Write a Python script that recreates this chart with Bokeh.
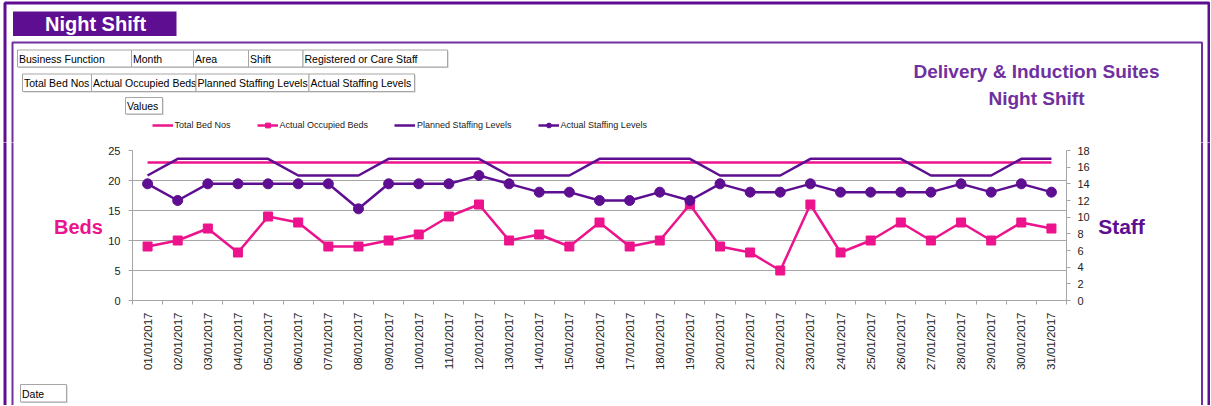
from bokeh.plotting import figure
from bokeh.layouts import column, row
from bokeh.models import Range1d, LinearAxis, FixedTicker, Legend, LegendItem
from bokeh.core.properties import value
from bokeh.embed import file_html
from bokeh.resources import INLINE

# ---------------- data ----------------
dates = ["01/01/2017", "02/01/2017", "03/01/2017", "04/01/2017", "05/01/2017",
         "06/01/2017", "07/01/2017", "08/01/2017", "09/01/2017", "10/01/2017",
         "11/01/2017", "12/01/2017", "13/01/2017", "14/01/2017", "15/01/2017",
         "16/01/2017", "17/01/2017", "18/01/2017", "19/01/2017", "20/01/2017",
         "21/01/2017", "22/01/2017", "23/01/2017", "24/01/2017", "25/01/2017",
         "26/01/2017", "27/01/2017", "28/01/2017", "29/01/2017", "30/01/2017",
         "31/01/2017"]
total_bed_nos = [23] * 31
actual_occupied_beds = [9, 10, 12, 8, 14, 13, 9, 9, 10, 11, 14, 16, 10, 11, 9, 13,
                        9, 10, 16, 9, 8, 5, 16, 8, 10, 13, 10, 13, 10, 13, 12]
planned_staffing = [15, 17, 17, 17, 17, 15, 15, 15, 17, 17, 17, 17, 15, 15, 15, 17,
                    17, 17, 17, 15, 15, 15, 17, 17, 17, 17, 15, 15, 15, 17, 17]
actual_staffing = [14, 12, 14, 14, 14, 14, 14, 11, 14, 14, 14, 15, 14, 13, 13, 12,
                   12, 13, 12, 14, 13, 13, 14, 13, 13, 13, 13, 14, 13, 14, 13]
series_names = ["Total Bed Nos", "Actual Occupied Beds",
                "Planned Staffing Levels", "Actual Staffing Levels"]
bed_ticks = [0, 5, 10, 15, 20, 25]
staff_ticks = [0, 2, 4, 6, 8, 10, 12, 14, 16, 18]
filter_fields = ["Business Function", "Month", "Area", "Shift", "Registered or Care Staff"]
value_fields = series_names
row_field = "Values"
axis_field = "Date"
title_lines = ["Delivery & Induction Suites", "Night Shift"]
sheet_title = "Night Shift"
left_title = "Beds"
right_title = "Staff"

n = len(dates)
xpos = list(range(1, n + 1))
NAN = float("nan")

# ---------------- style ----------------
PINK = "#EC138C"
PURPLE = "#5E0E91"
PURPLE_MID = "#7030A0"
GRID = "#A6A6A6"
TXT = "#222222"
FONT = "Liberation Sans"

# page geometry (page pixels; the page template has no body margin)
OX, OY = 0, 0
WT, HT = 1210, 405
TOP_Y = 142
CH_X0, CH_X1 = 104, 1093
FR_X0, FR_X1 = 132, 1066
FR_Y0, FR_Y1 = 150, 300


def deco_fig(x0, x1, y0, y1):
    f = figure(width=int(x1 - x0), height=int(y1 - y0), x_range=Range1d(x0, x1),
               y_range=Range1d(y1, y0), output_backend="svg", toolbar_location=None,
               x_axis_location=None, y_axis_location=None, min_border=0,
               frame_align=False)
    f.outline_line_color = None
    f.grid.visible = False
    return f


def frames(f):
    f.quad(left=[4.5], right=[1208.5], top=[2.5], bottom=[460], fill_color=None,
           line_color=PURPLE, line_width=3)
    f.quad(left=[12], right=[1201.5], top=[42], bottom=[460], fill_color=None,
           line_color=PURPLE_MID, line_width=2)


def txt(f, x, y, s, size, color="black", align="left", bold=False):
    f.text(x=[x], y=[y], text=[s], text_font=value(FONT), text_font_size=value(size),
           text_color=color, text_align=align, text_baseline="middle",
           text_font_style="bold" if bold else "normal")


def button(f, x0, x1, y0, y1, s):
    f.quad(left=[x0 + 1], right=[x1 + 1], top=[y0 + 1], bottom=[y1 + 1],
           fill_color="#C8C8C8", line_color=None)
    f.quad(left=[x0], right=[x1], top=[y0], bottom=[y1], fill_color="white",
           line_color=GRID, line_width=1)
    txt(f, x0 + 1.5, (y0 + y1) / 2 + 0.5, s, "10.5px")


# ---------------- top strip ----------------
top = deco_fig(OX, OX + WT, OY, TOP_Y)
frames(top)
top.quad(left=[12.5], right=[176], top=[11], bottom=[35.5], fill_color=PURPLE, line_color=None)
txt(top, 95, 23.5, sheet_title, "20px", color="white", align="center", bold=True)
row1_pos = [(17, 131), (131, 193), (193, 248), (248, 302.5), (302.5, 447)]
row2_pos = [(22, 91), (91, 195.5), (195.5, 308.5), (308.5, 414)]
for (a, b), s in zip(row1_pos, filter_fields):
    button(top, a, b, 49.5, 66.5, s)
for (a, b), s in zip(row2_pos, value_fields):
    button(top, a, b, 73.5, 91, s)
button(top, 125, 162, 97, 113.5, row_field)
txt(top, 1036, 71, title_lines[0], "19px", color=PURPLE_MID, align="center", bold=True)
txt(top, 1036, 98, title_lines[1], "19px", color=PURPLE_MID, align="center", bold=True)

# legend (glyphs share the series' styles; the sample renderers hold no visible point)
lg0 = top.line([NAN], [NAN], line_color=PINK, line_width=2.5)
lg1a = top.line([NAN], [NAN], line_color=PINK, line_width=2.5)
lg1b = top.scatter([NAN], [NAN], marker="square", size=9, fill_color=PINK, line_color=PINK)
lg2 = top.line([NAN], [NAN], line_color=PURPLE, line_width=2.5)
lg3a = top.line([NAN], [NAN], line_color=PURPLE, line_width=2.5)
lg3b = top.scatter([NAN], [NAN], marker="circle", size=10, fill_color=PURPLE, line_color=PURPLE)
legend = Legend(items=[LegendItem(label=series_names[0], renderers=[lg0]),
                       LegendItem(label=series_names[1], renderers=[lg1a, lg1b]),
                       LegendItem(label=series_names[2], renderers=[lg2]),
                       LegendItem(label=series_names[3], renderers=[lg3a, lg3b])],
                orientation="horizontal", location=(151.5 - OX, TOP_Y - 124.7 - 6),
                padding=0, margin=0, spacing=26, glyph_width=21, glyph_height=12,
                label_standoff=2, label_height=12,
                label_text_font=FONT, label_text_font_size="9px", label_text_color=TXT,
                border_line_color=None, background_fill_alpha=0)
top.add_layout(legend)

# ---------------- left / right strips ----------------
left = deco_fig(OX, CH_X0, TOP_Y, OY + HT)
frames(left)
txt(left, 78, 226, left_title, "20px", color=PINK, align="center", bold=True)
button(left, 20, 66, 384, 401.5, axis_field)

right = deco_fig(CH_X1, OX + WT, TOP_Y, OY + HT)
frames(right)
txt(right, 1121, 226, right_title, "21px", color=PURPLE, align="center", bold=True)

# ---------------- chart ----------------
p = figure(width=CH_X1 - CH_X0, height=OY + HT - TOP_Y,
           x_range=Range1d(0.5, n + 0.5), y_range=Range1d(0, 25),
           output_backend="svg", toolbar_location=None, frame_align=False,
           min_border_left=FR_X0 - CH_X0, min_border_right=CH_X1 - FR_X1,
           min_border_top=FR_Y0 - TOP_Y, min_border_bottom=OY + HT - FR_Y1)
p.outline_line_color = None
p.xgrid.visible = False
p.extra_y_ranges = {"staff": Range1d(0, 18)}

ya = p.yaxis[0]
ya.ticker = FixedTicker(ticks=bed_ticks)
ya.axis_line_color = GRID
ya.major_tick_line_color = GRID
ya.major_tick_out = 4
ya.major_tick_in = 0
ya.minor_tick_line_color = None
ya.major_label_standoff = 8
ya.major_label_text_font = FONT
ya.major_label_text_font_size = "11px"
ya.major_label_text_color = TXT
p.ygrid.grid_line_color = GRID
p.ygrid.grid_line_width = 1

ra = LinearAxis(y_range_name="staff", ticker=FixedTicker(ticks=staff_ticks),
                axis_line_color=GRID, major_tick_line_color=GRID, major_tick_out=4,
                major_tick_in=0, minor_tick_line_color=None, major_label_standoff=7,
                major_label_text_font=FONT, major_label_text_font_size="11px",
                major_label_text_color=TXT)
p.add_layout(ra, "right")

xa = p.xaxis[0]
xa.ticker = FixedTicker(ticks=xpos, minor_ticks=[x - 0.5 for x in xpos] + [n + 0.5])
xa.major_label_overrides = {x: d for x, d in zip(xpos, dates)}
xa.axis_line_color = GRID
xa.major_tick_line_color = None
xa.major_tick_out = 0
xa.major_tick_in = 0
xa.minor_tick_line_color = GRID
xa.minor_tick_out = 4
xa.minor_tick_in = 0
xa.major_label_orientation = 3.14159265 / 2
xa.major_label_standoff = 8
xa.major_label_text_font = FONT
xa.major_label_text_font_size = "11.5px"
xa.major_label_text_color = TXT

p.line(xpos, total_bed_nos, line_color=PINK, line_width=2.5)
p.line(xpos, actual_occupied_beds, line_color=PINK, line_width=2.5)
p.scatter(xpos, actual_occupied_beds, marker="square", size=9, fill_color=PINK, line_color=PINK)
p.line(xpos, planned_staffing, y_range_name="staff", line_color=PURPLE, line_width=2.5)
p.line(xpos, actual_staffing, y_range_name="staff", line_color=PURPLE, line_width=2.5)
p.scatter(xpos, actual_staffing, y_range_name="staff", marker="circle", size=10,
          fill_color=PURPLE, line_color=PURPLE)

layout = column(top, row(left, p, right))
open("out.html", "w").write(file_html(layout, INLINE, title=sheet_title))
